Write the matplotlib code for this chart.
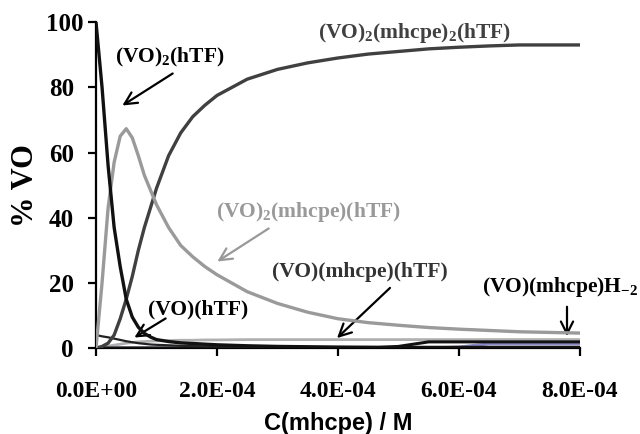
import matplotlib
matplotlib.use("Agg")
import matplotlib.pyplot as plt
import matplotlib.transforms as mtransforms
import numpy as np

plt.rcParams['mathtext.fontset'] = 'custom'
plt.rcParams['mathtext.rm'] = 'Liberation Serif:bold'
plt.rcParams['mathtext.it'] = 'Liberation Serif:bold'
plt.rcParams['mathtext.bf'] = 'Liberation Serif:bold'
plt.rcParams['mathtext.default'] = 'bf'

# x in units of 1e-4 M
x_e4 = [0, 0.1, 0.2, 0.3, 0.4, 0.5, 0.6, 0.7, 0.8, 0.9, 1.0, 1.2, 1.4, 1.6, 1.8,
        2.0, 2.5, 3.0, 3.5, 4.0, 4.5, 5.0, 5.5, 6.0, 6.5, 7.0, 7.5, 8.0]

vo2_htf = [100, 80, 56, 37, 25, 15, 9.5, 6.4, 4.5, 3.4, 2.6, 2.0, 1.6, 1.4, 1.2,
           1.0, 0.7, 0.5, 0.4, 0.3, 0.25, 0.2, 0.2, 0.2, 0.2, 0.2, 0.2, 0.2]
vo2_mhcpe_htf = [0, 20, 43, 57, 65, 67.3, 64.5, 59, 53, 48.5, 44, 37, 31.5, 28, 25,
                 22.5, 17.3, 13.7, 11, 9, 7.8, 7.0, 6.3, 5.8, 5.4, 5.0, 4.8, 4.6]
vo2_mhcpe2_htf = [0, 0.5, 1.5, 4, 9, 15, 22, 30, 37, 43, 49, 59, 66, 71, 74.5,
                  77.5, 82.5, 85.5, 87.5, 89, 90.2, 91, 91.8, 92.3, 92.7, 93, 93, 93]
vo_htf = [4, 3.6, 3.3, 2.9, 2.5, 2.1, 1.8, 1.5, 1.3, 1.1, 1.0, 0.85, 0.7, 0.6, 0.55,
          0.5, 0.4, 0.3, 0.25, 0.2, 0.2, 0.2, 0.2, 0.2, 0.2, 0.2, 0.2, 0.2]
vo_mhcpe_htf = [0, 0.3, 0.6, 0.9, 1.2, 1.5, 1.7, 1.9, 2.0, 2.1, 2.2, 2.3, 2.4, 2.4, 2.5,
                2.5, 2.6, 2.6, 2.6, 2.6, 2.6, 2.6, 2.6, 2.6, 2.6, 2.6, 2.6, 2.6]
vo_mhcpe_hm2 = [0, 0, 0, 0, 0, 0, 0, 0, 0, 0, 0, 0, 0, 0, 0,
                0, 0, 0, 0, 0, 0, 0.5, 1.9, 1.9, 1.9, 1.9, 1.9, 1.9]
minor_purple = [0, 0, 0, 0, 0, 0, 0, 0, 0, 0, 0, 0, 0, 0, 0,
                0, 0, 0, 0, 0, 0, 0, 0, 0.3, 1.3, 1.3, 1.3, 1.3]
minor_orange = [0.4] * len(x_e4)

y_ticks = [0, 20, 40, 60, 80, 100]
x_ticks = [0, 2e-4, 4e-4, 6e-4, 8e-4]
x_tick_labels = ['0.0E+00', '2.0E-04', '4.0E-04', '6.0E-04', '8.0E-04']

x = np.array(x_e4) * 1e-4

fig = plt.figure(figsize=(6.4, 4.34), dpi=100)
ax = fig.add_axes([0.150, 0.198, 0.756, 0.751])

ax.plot(x, minor_orange, color='#d4956a', lw=1.0, zorder=2)
ax.plot(x, minor_purple, color='#8c8cc8', lw=2.2, zorder=2)
ax.plot(x, vo_mhcpe_htf, color='#b0b0b0', lw=2.0, zorder=2)
ax.plot(x, vo_mhcpe_hm2, color='#111111', lw=2.2, zorder=3)
ax.plot(x, vo_htf, color='#222222', lw=1.6, zorder=3)
ax.plot(x, vo2_mhcpe2_htf, color='#404040', lw=2.4, zorder=4)
ax.plot(x, vo2_mhcpe_htf, color='#9a9a9a', lw=2.4, zorder=4)
ax.plot(x, vo2_htf, color='#111111', lw=2.4, zorder=5)

ax.set_xlim(0, 8e-4)
ax.set_ylim(0, 100)
ax.set_xticks(x_ticks)
ax.set_xticklabels(x_tick_labels)
ax.set_yticks(y_ticks)
for s in ['top', 'right']:
    ax.spines[s].set_visible(False)
for s in ['left', 'bottom']:
    ax.spines[s].set_linewidth(1.6)
    ax.spines[s].set_color('black')
ax.tick_params(direction='out', length=6, width=1.6, colors='black')
ax.tick_params(axis='x', pad=18)
ax.tick_params(axis='y', pad=10)
for lab in ax.get_xticklabels():
    lab.set_fontfamily('Liberation Serif')
    lab.set_fontweight('bold')
    lab.set_fontsize(17)
for lab in ax.get_yticklabels():
    lab.set_fontfamily('Liberation Serif')
    lab.set_fontweight('bold')
    lab.set_fontsize(18)

ax.set_ylabel('% VO', fontfamily='Liberation Serif', fontweight='bold',
              fontsize=22)
ax.yaxis.set_label_coords(-0.115, 0.5)
ax.set_xlabel('C(mhcpe) / M', fontfamily='Liberation Sans', fontweight='bold',
              fontsize=17)
ax.xaxis.set_label_coords(0.5, -0.195)

tf = dict(fontfamily='Liberation Serif', fontweight='bold', fontsize=15.5)

def px(xp, yp):
    return (xp / 640, 1 - yp / 434)

def note(txt, tpos, color, a_from=None, a_to=None, acolor=None):
    fig.text(*px(*tpos), txt, color=color, ha='center', va='center', **tf)
    if a_from is not None:
        ax.annotate('', xy=px(*a_to), xycoords='figure fraction',
                    xytext=px(*a_from), textcoords='figure fraction',
                    arrowprops=dict(arrowstyle='->', color=acolor or color,
                                    lw=1.6, mutation_scale=22))

note('(VO)$_2$(hTF)', (170, 57), 'black', (175, 72), (120, 107))
note('(VO)$_2$(mhcpe)$_2$(hTF)', (415, 33), '#404040')
note('(VO)$_2$(mhcpe)(hTF)', (308, 212), '#999999', (271, 227), (215, 263))
note('(VO)(mhcpe)(hTF)', (360, 272), '#333333', (392, 286), (335, 340), 'black')
note('(VO)(hTF)', (198, 309), 'black', (168, 317), (132, 339))
note('(VO)(mhcpe)H$_{-2}$', (560, 287), 'black', (567, 304), (567, 339))

# the top y label sits slightly further right in the reference
top_lab = ax.yaxis.get_major_ticks()[-1].label1
top_lab.set_transform(top_lab.get_transform() +
                      mtransforms.ScaledTranslation(10 / 100, 0, fig.dpi_scale_trans))

fig.savefig('out.png', dpi=100)
